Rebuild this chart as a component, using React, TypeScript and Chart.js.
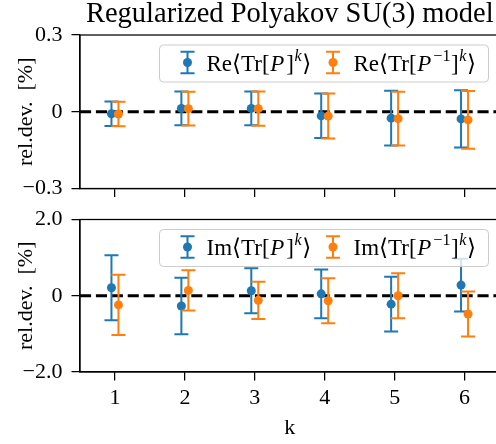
import React, { useEffect, useRef } from 'react';
import { Chart, registerables } from 'chart.js';
Chart.register(...registerables);

const FONT = "'Liberation Serif', 'DejaVu Serif', serif";
const TITLE = 'Regularized Polyakov SU(3) model';
const Y_TITLE = 'rel.dev.  [%]';
const X_TITLE = 'k';

const K = [1, 2, 3, 4, 5, 6];
const X_TICKS = [1, 2, 3, 4, 5, 6];

const RE_P = [-0.008, 0.013, 0.013, -0.016, -0.025, -0.028];
const RE_P_ERR = [0.048, 0.066, 0.066, 0.087, 0.107, 0.112];
const RE_PINV = [-0.009, 0.012, 0.012, -0.017, -0.027, -0.032];
const RE_PINV_ERR = [0.048, 0.066, 0.067, 0.088, 0.105, 0.113];

const IM_P = [0.21, -0.27, 0.13, 0.05, -0.22, 0.28];
const IM_P_ERR = [0.85, 0.74, 0.59, 0.64, 0.72, 0.69];
const IM_PINV = [-0.24, 0.14, -0.12, -0.13, 0.0, -0.48];
const IM_PINV_ERR = [0.79, 0.53, 0.49, 0.59, 0.59, 0.59];

const TOP_Y_TICKS = [-0.3, 0, 0.3];
const TOP_Y_LABELS = ['\u22120.3', '0', '0.3'];
const BOT_Y_TICKS = [-2, 0, 2];
const BOT_Y_LABELS = ['\u22122.0', '0', '2.0'];

const BLUE = '#1f77b4';
const ORANGE = '#ff7f0e';
const X_SHIFT = 0.05;

type Seg = { t: string; i?: boolean; s?: boolean };
const LEG_RE_P: Seg[] = [{ t: 'Re\u27e8Tr[' }, { t: 'P', i: true }, { t: ']' }, { t: 'k', i: true, s: true }, { t: '\u27e9' }];
const LEG_RE_PINV: Seg[] = [{ t: 'Re\u27e8Tr[' }, { t: 'P', i: true }, { t: '\u22121', s: true }, { t: ']' }, { t: 'k', i: true, s: true }, { t: '\u27e9' }];
const LEG_IM_P: Seg[] = [{ t: 'Im\u27e8Tr[' }, { t: 'P', i: true }, { t: ']' }, { t: 'k', i: true, s: true }, { t: '\u27e9' }];
const LEG_IM_PINV: Seg[] = [{ t: 'Im\u27e8Tr[' }, { t: 'P', i: true }, { t: '\u22121', s: true }, { t: ']' }, { t: 'k', i: true, s: true }, { t: '\u27e9' }];

const CAP = 7;
const ELW = 2;

const errorBarPlugin = {
  id: 'errbars',
  beforeDatasetDraw(chart: any, args: any) {
    const ds = chart.data.datasets[args.index];
    const errs: number[] = ds.errors;
    if (!errs) return;
    const xs = chart.scales.x;
    const ys = chart.scales.y;
    const ctx = chart.ctx;
    ctx.save();
    ctx.strokeStyle = ds.backgroundColor;
    ctx.lineWidth = ELW;
    ds.data.forEach((p: any, i: number) => {
      const px = xs.getPixelForValue(p.x);
      const y1 = ys.getPixelForValue(p.y + errs[i]);
      const y2 = ys.getPixelForValue(p.y - errs[i]);
      ctx.beginPath();
      ctx.moveTo(px, y1);
      ctx.lineTo(px, y2);
      ctx.moveTo(px - CAP, y1);
      ctx.lineTo(px + CAP, y1);
      ctx.moveTo(px - CAP, y2);
      ctx.lineTo(px + CAP, y2);
      ctx.stroke();
    });
    ctx.restore();
  },
};

const zeroLinePlugin = {
  id: 'zeroline',
  beforeDatasetsDraw(chart: any) {
    const { ctx, chartArea } = chart;
    const y = chart.scales.y.getPixelForValue(0);
    ctx.save();
    ctx.strokeStyle = '#000';
    ctx.lineWidth = 3;
    ctx.setLineDash([11.1, 4.8]);
    ctx.beginPath();
    ctx.moveTo(chartArea.left, y);
    ctx.lineTo(chartArea.right, y);
    ctx.stroke();
    ctx.restore();
  },
};

const framePlugin = {
  id: 'frame',
  afterDatasetsDraw(chart: any) {
    const { ctx, chartArea } = chart;
    ctx.save();
    ctx.strokeStyle = '#000';
    ctx.lineWidth = 1.25;
    ctx.strokeRect(chartArea.left, chartArea.top, chartArea.right - chartArea.left, chartArea.bottom - chartArea.top);
    ctx.restore();
  },
};

function drawRich(ctx: CanvasRenderingContext2D, segs: Seg[], x: number, baseline: number, size: number) {
  let cx = x;
  for (const s of segs) {
    const fs = s.s ? size * 0.7 : size;
    ctx.font = `${s.i ? 'italic ' : ''}${fs}px ${FONT}`;
    const dy = s.s ? -size * 0.42 : 0;
    ctx.fillText(s.t, cx, baseline + dy);
    cx += ctx.measureText(s.t).width + (s.i && !s.s ? 1.5 : 0) + 0.6;
  }
}

function makeLegend(items: { segs: Seg[]; color: string }[]) {
  return {
    id: 'mlegend',
    afterDraw(chart: any) {
      const { ctx, chartArea } = chart;
      const w = 329;
      const h = 37;
      const right = chartArea.right - 11;
      const top = chartArea.top + 10;
      const left = right - w;
      ctx.save();
      ctx.beginPath();
      ctx.roundRect(left, top, w, h, 4);
      ctx.fillStyle = 'rgba(255,255,255,0.8)';
      ctx.fill();
      ctx.strokeStyle = '#cccccc';
      ctx.lineWidth = 1;
      ctx.stroke();
      const offsets = [{ icon: 28, text: 47 }, { icon: 173.5, text: 194 }];
      const cy = top + 17.5;
      items.forEach((it, i) => {
        const ix = left + offsets[i].icon;
        ctx.strokeStyle = it.color;
        ctx.lineWidth = ELW;
        ctx.beginPath();
        ctx.moveTo(ix, cy - 10.8);
        ctx.lineTo(ix, cy + 10.8);
        ctx.moveTo(ix - CAP, cy - 10.8);
        ctx.lineTo(ix + CAP, cy - 10.8);
        ctx.moveTo(ix - CAP, cy + 10.8);
        ctx.lineTo(ix + CAP, cy + 10.8);
        ctx.stroke();
        ctx.fillStyle = it.color;
        ctx.beginPath();
        ctx.arc(ix, cy, 4.5, 0, Math.PI * 2);
        ctx.fill();
        ctx.fillStyle = '#000';
        ctx.textBaseline = 'alphabetic';
        ctx.textAlign = 'left';
        drawRich(ctx, it.segs, left + offsets[i].text, top + 25.5, 23);
      });
      ctx.restore();
    },
  };
}

function makeConfig(p: {
  a: number[]; aErr: number[]; b: number[]; bErr: number[];
  yMin: number; yMax: number; yTicks: number[]; yLabels: string[];
  bottom: boolean; xHeight: number; padTop: number;
  legend: { segs: Seg[]; color: string }[];
}): any {
  const tickFont = { family: FONT, size: 22 };
  const gridOpts = { drawOnChartArea: false, drawTicks: true, tickLength: 8.5, color: '#000', lineWidth: 1.25 };
  return {
    type: 'scatter',
    data: {
      datasets: [
        {
          label: 'a',
          data: K.map((k, i) => ({ x: k - X_SHIFT, y: p.a[i] })),
          errors: p.aErr,
          backgroundColor: BLUE,
          pointBackgroundColor: BLUE,
          pointBorderWidth: 0,
          pointRadius: 4.5,
          order: 2,
        },
        {
          label: 'b',
          data: K.map((k, i) => ({ x: k + X_SHIFT, y: p.b[i] })),
          errors: p.bErr,
          backgroundColor: ORANGE,
          pointBackgroundColor: ORANGE,
          pointBorderWidth: 0,
          pointRadius: 4.5,
          order: 1,
        },
      ],
    },
    options: {
      responsive: false,
      animation: false,
      events: [],
      layout: { padding: { top: p.padTop, left: 0, right: 1, bottom: 0 } },
      plugins: {
        legend: { display: false },
        tooltip: { enabled: false },
        title: p.bottom
          ? { display: false }
          : {
              display: true,
              text: TITLE,
              fullSize: false,
              color: '#000',
              font: { family: FONT, size: 28.5, weight: 'normal', lineHeight: 1 },
              padding: { top: 0, bottom: 6.5 },
            },
      },
      scales: {
        x: {
          type: 'linear',
          min: 0.5,
          max: 6.5,
          afterBuildTicks: (s: any) => { s.ticks = X_TICKS.map((v) => ({ value: v })); },
          afterFit: (s: any) => { s.height = p.xHeight; },
          ticks: {
            display: p.bottom,
            autoSkip: false,
            maxRotation: 0,
            font: tickFont,
            color: '#000',
            padding: 5,
            callback: (v: number) => String(v),
          },
          grid: gridOpts,
          border: { color: '#000', width: 1.25 },
          title: {
            display: p.bottom,
            text: X_TITLE,
            color: '#000',
            font: { family: FONT, size: 22 },
            padding: { top: 0, bottom: 2.5 },
          },
        },
        y: {
          type: 'linear',
          min: p.yMin,
          max: p.yMax,
          afterBuildTicks: (s: any) => { s.ticks = p.yTicks.map((v) => ({ value: v })); },
          afterFit: (s: any) => { s.width = 80; },
          ticks: {
            autoSkip: false,
            font: tickFont,
            color: '#000',
            padding: 9,
            callback: (_v: number, i: number) => p.yLabels[i],
          },
          grid: gridOpts,
          border: { color: '#000', width: 1.25 },
          title: {
            display: true,
            text: Y_TITLE,
            color: '#000',
            font: { family: FONT, size: 22 },
            padding: { top: 13, bottom: 0 },
          },
        },
      },
    },
    plugins: [zeroLinePlugin, errorBarPlugin, framePlugin, makeLegend(p.legend)],
  };
}

export default function App() {
  const refA = useRef<HTMLCanvasElement>(null);
  const refB = useRef<HTMLCanvasElement>(null);
  useEffect(() => {
    const a = new Chart(refA.current!, makeConfig({
      a: RE_P, aErr: RE_P_ERR, b: RE_PINV, bErr: RE_PINV_ERR,
      yMin: -0.3, yMax: 0.3, yTicks: TOP_Y_TICKS, yLabels: TOP_Y_LABELS,
      bottom: false, xHeight: 23.5, padTop: 0,
      legend: [{ segs: LEG_RE_P, color: BLUE }, { segs: LEG_RE_PINV, color: ORANGE }],
    }));
    const b = new Chart(refB.current!, makeConfig({
      a: IM_P, aErr: IM_P_ERR, b: IM_PINV, bErr: IM_PINV_ERR,
      yMin: -2, yMax: 2, yTicks: BOT_Y_TICKS, yLabels: BOT_Y_LABELS,
      bottom: true, xHeight: 72, padTop: 23.5,
      legend: [{ segs: LEG_IM_P, color: BLUE }, { segs: LEG_IM_PINV, color: ORANGE }],
    }));
    return () => { a.destroy(); b.destroy(); };
  }, []);
  return (
    <div style={{ position: 'fixed', left: 0, top: 0, width: 496, height: 444, overflow: 'hidden', background: '#fff' }}>
      <canvas ref={refA} width={504} height={212} style={{ position: 'absolute', left: 0, top: 0 }} />
      <canvas ref={refB} width={504} height={248} style={{ position: 'absolute', left: 0, top: 196 }} />
    </div>
  );
}
